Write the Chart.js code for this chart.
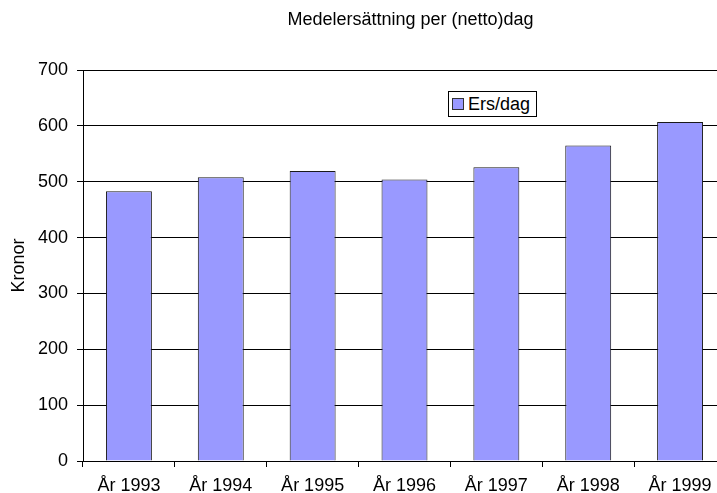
<!DOCTYPE html>
<html>
<head>
    <title>Medelersättning per (netto)dag</title>
    <script src="https://cdn.jsdelivr.net/npm/chart.js"></script>
    <style>
        html, body {
            margin: 0;
            padding: 0;
            overflow: hidden;
            background-color: #ffffff;
            font-family: 'Liberation Sans', Arial, sans-serif;
        }
        #wrap {
            position: relative;
            width: 821px;
            height: 493px;
        }
        #legendBox {
            position: absolute;
            left: 448px;
            top: 91px;
            height: 24px;
            padding: 0 6px 0 3px;
            border: 1px solid #000;
            background: #fff;
            display: flex;
            align-items: center;
            font-size: 18px;
            color: #000;
        }
        #legendBox .swatch {
            width: 10px;
            height: 10px;
            border: 1px solid #333;
            margin-right: 4px;
        }
    </style>
</head>
<body>
    <div id="wrap">
        <canvas id="chart" width="821" height="493"></canvas>
        <div id="legendBox"></div>
    </div>
    <script>
        const years = ['År 1993', 'År 1994', 'År 1995', 'År 1996', 'År 1997', 'År 1998', 'År 1999'];
        const ersPerDag = [483, 508, 519, 504, 526, 565, 607];
        const seriesName = 'Ers/dag';
        const barColor = '#9999FF';

        const fontFamily = "'Liberation Sans', Arial, sans-serif";

        const chart = new Chart(document.getElementById('chart'), {
            type: 'bar',
            data: {
                labels: years,
                datasets: [{
                    label: seriesName,
                    data: ersPerDag,
                    backgroundColor: barColor,
                    borderColor: '#1a1a1a',
                    borderWidth: 1,
                    barPercentage: 0.5,
                    categoryPercentage: 1.0
                }]
            },
            options: {
                responsive: false,
                animation: false,
                layout: { padding: 0 },
                plugins: {
                    legend: { display: false },
                    tooltip: { enabled: false },
                    title: {
                        display: true,
                        text: 'Medelersättning per (netto)dag',
                        color: '#000',
                        font: { family: fontFamily, size: 18, weight: 'normal' },
                        padding: { top: 9, bottom: 39.4 }
                    }
                },
                scales: {
                    x: {
                        grid: {
                            display: true,
                            offset: true,
                            drawOnChartArea: false,
                            tickLength: 6,
                            color: '#000'
                        },
                        border: { color: '#000', width: 1 },
                        ticks: {
                            color: '#000',
                            padding: 8,
                            maxRotation: 0,
                            font: { family: fontFamily, size: 18 }
                        },
                        afterFit: (scale) => { scale.height = 32; }
                    },
                    y: {
                        min: 0,
                        max: 700,
                        ticks: {
                            stepSize: 100,
                            color: '#000',
                            padding: 9,
                            font: { family: fontFamily, size: 18 }
                        },
                        grid: {
                            color: '#000',
                            tickLength: 6
                        },
                        border: { color: '#000', width: 1 },
                        title: {
                            display: true,
                            text: 'Kronor',
                            color: '#000',
                            padding: { top: 8, bottom: 0 },
                            font: { family: fontFamily, size: 18 }
                        },
                        afterFit: (scale) => { scale.width = 83; }
                    },
                    // empty right axis, only to keep the cut-off space on the right
                    y2: {
                        position: 'right',
                        display: true,
                        grid: { display: false },
                        border: { display: false },
                        ticks: { display: false },
                        afterFit: (scale) => { scale.width = 95; }
                    }
                }
            }
        });

        // legend as a box inside the plot, like the original
        const legendBox = document.getElementById('legendBox');
        chart.data.datasets.forEach(ds => {
            const sw = document.createElement('span');
            sw.className = 'swatch';
            sw.style.backgroundColor = ds.backgroundColor;
            const txt = document.createElement('span');
            txt.textContent = ds.label;
            legendBox.appendChild(sw);
            legendBox.appendChild(txt);
        });
    </script>
</body>
</html>
